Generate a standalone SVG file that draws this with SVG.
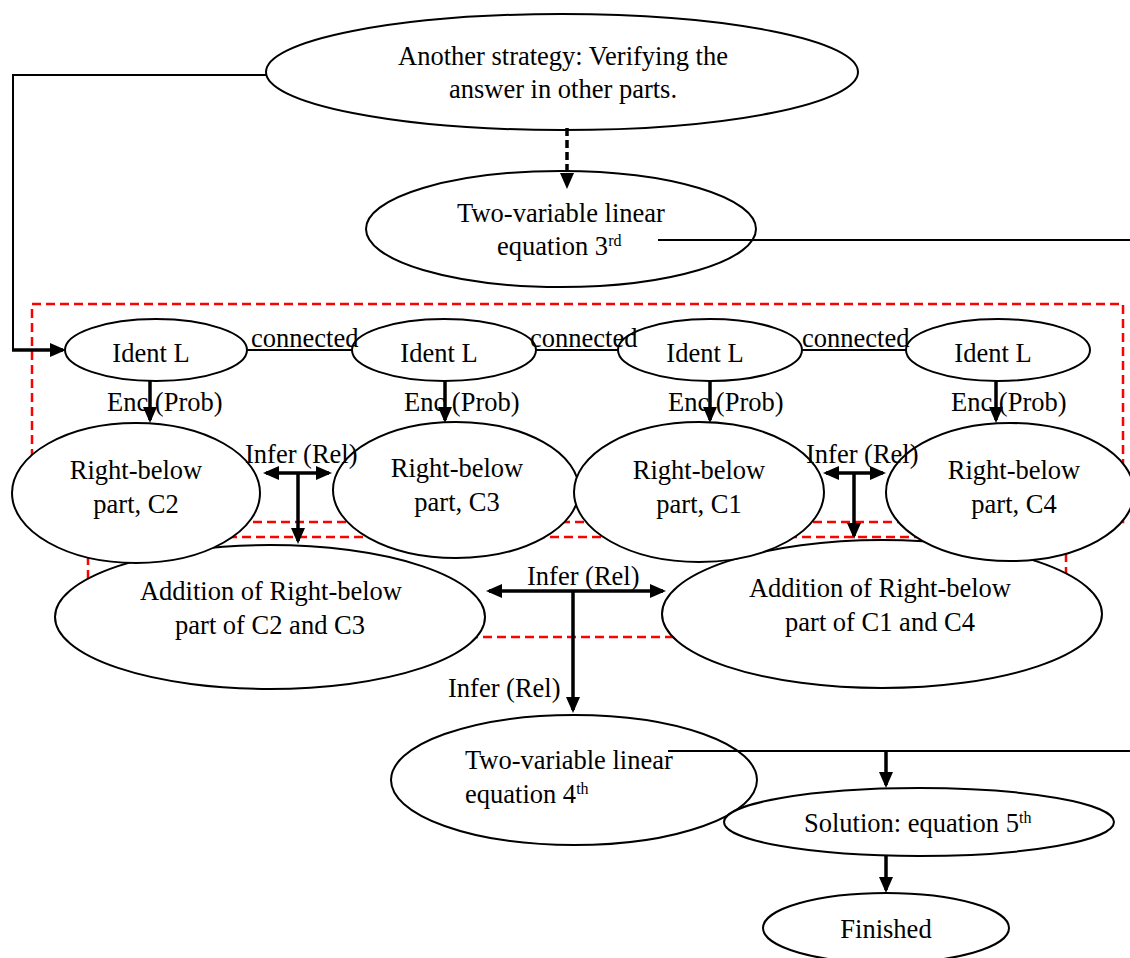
<svg xmlns="http://www.w3.org/2000/svg" width="1130" height="958" viewBox="0 0 1130 958">
<defs>
<style>
text{font-family:"Liberation Serif","Times New Roman",serif;font-size:26.5px;fill:#000}
.node ellipse{fill:#fff;stroke:#000;stroke-width:2}
.c{text-anchor:middle}
.sup{font-size:16px}
.thin{fill:none;stroke:#000;stroke-width:2}
.arr{fill:none;stroke:#000;stroke-width:3.5;marker-end:url(#ah)}
.dbl{fill:none;stroke:#000;stroke-width:3.5;marker-end:url(#ah);marker-start:url(#ah)}
.red{fill:none;stroke:#ff0000;stroke-width:2.5;stroke-dasharray:9 5}
</style>
<marker id="ah" markerUnits="userSpaceOnUse" markerWidth="16" markerHeight="14" refX="13" refY="7" orient="auto-start-reverse">
<path d="M0,0 L16,7 L0,14 z" fill="#000"/>
</marker>
</defs>
<rect width="1130" height="958" fill="#fff"/>
<g id="groups">
<rect class="red" x="32" y="304" width="1091" height="218"/>
<rect class="red" x="88" y="537" width="978" height="100"/>
</g>
<g id="n-strategy" class="node">
<ellipse cx="562" cy="72" rx="296" ry="58"/>
<text class="c" x="563" y="65">Another strategy: Verifying the</text>
<text class="c" x="563" y="98">answer in other parts.</text>
</g>
<g id="n-eq3" class="node">
<ellipse cx="561" cy="229" rx="195" ry="58"/>
<text class="c" x="561" y="222">Two-variable linear</text>
<text x="497" y="255">equation 3<tspan class="sup" dy="-9">rd</tspan></text>
</g>
<g id="n-ident1" class="node"><ellipse cx="156" cy="350" rx="91" ry="31"/><text class="c" x="151" y="362">Ident L</text></g>
<g id="n-ident2" class="node"><ellipse cx="444" cy="350" rx="92" ry="31"/><text class="c" x="439" y="362">Ident L</text></g>
<g id="n-ident3" class="node"><ellipse cx="710" cy="350" rx="92" ry="31"/><text class="c" x="705" y="362">Ident L</text></g>
<g id="n-ident4" class="node"><ellipse cx="998" cy="350" rx="92" ry="31"/><text class="c" x="993" y="362">Ident L</text></g>
<g id="n-add23" class="node">
<ellipse cx="270" cy="617" rx="215" ry="72"/>
<text class="c" x="271" y="600">Addition of Right-below</text>
<text class="c" x="270" y="634">part of C2 and C3</text>
</g>
<g id="n-add14" class="node">
<ellipse cx="882" cy="614" rx="220" ry="74"/>
<text class="c" x="880" y="597">Addition of Right-below</text>
<text class="c" x="880" y="631">part of C1 and C4</text>
</g>
<g id="n-c2" class="node"><ellipse cx="136" cy="493" rx="124" ry="70"/><text class="c" x="136" y="479">Right-below</text><text class="c" x="136" y="513">part, C2</text></g>
<g id="n-c3" class="node"><ellipse cx="456" cy="490" rx="123" ry="68"/><text class="c" x="457" y="477">Right-below</text><text class="c" x="457" y="511">part, C3</text></g>
<g id="n-c1" class="node"><ellipse cx="699" cy="492" rx="125" ry="70"/><text class="c" x="699" y="479">Right-below</text><text class="c" x="699" y="513">part, C1</text></g>
<g id="n-c4" class="node"><ellipse cx="1010" cy="492" rx="124" ry="69"/><text class="c" x="1014" y="479">Right-below</text><text class="c" x="1014" y="513">part, C4</text></g>
<g id="n-eq4" class="node">
<ellipse cx="574" cy="780" rx="183" ry="65"/>
<text x="465" y="769">Two-variable linear</text>
<text x="465" y="803">equation 4<tspan class="sup" dy="-9">th</tspan></text>
</g>
<g id="n-solution" class="node">
<ellipse cx="919" cy="822" rx="195" ry="34"/>
<text x="804" y="832">Solution: equation 5<tspan class="sup" dy="-9">th</tspan></text>
</g>
<g id="n-finished" class="node">
<ellipse cx="886" cy="928" rx="123" ry="35"/>
<text class="c" x="886" y="938">Finished</text>
</g>
<g id="connectors">
<text x="251" y="347">connected</text>
<text x="530" y="347">connected</text>
<text x="802" y="347">connected</text>
<text x="107" y="411">Enc (Prob)</text>
<text x="404" y="411">Enc (Prob)</text>
<text x="668" y="411">Enc (Prob)</text>
<text x="951" y="411">Enc (Prob)</text>
<text x="245" y="463">Infer (Rel)</text>
<text x="806" y="463">Infer (Rel)</text>
<text x="527" y="585">Infer (Rel)</text>
<text x="448" y="697">Infer (Rel)</text>
<path class="thin" d="M267,75 H13 V350"/>
<path class="arr" d="M12,350 H63"/>
<path class="arr" d="M567,128 V186" stroke-dasharray="8 4" stroke-width="3"/>
<path class="thin" d="M658,240 H1130"/>
<path class="thin" d="M247,350 H352 M536,350 H619 M802,350 H906"/>
<path class="arr" d="M150,381 V420"/>
<path class="arr" d="M445,381 V420"/>
<path class="arr" d="M710,381 V420"/>
<path class="arr" d="M996,381 V420"/>
<path class="dbl" d="M266,473 H329"/>
<path class="arr" d="M298,473 V541"/>
<path class="dbl" d="M826,473 H883"/>
<path class="arr" d="M854,473 V536"/>
<path class="dbl" d="M489,591 H663"/>
<path class="arr" d="M573,591 V710"/>
<path class="thin" d="M668,751 H1130"/>
<path class="arr" d="M886,751 V785"/>
<path class="arr" d="M886,856 V890"/>
</g>
</svg>
